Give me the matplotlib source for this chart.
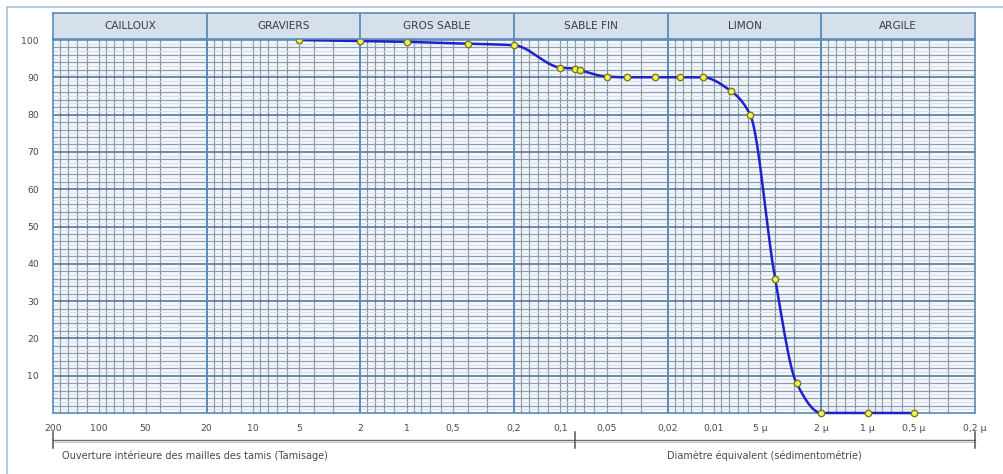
import numpy as np
import matplotlib
matplotlib.use('Agg')
import matplotlib.pyplot as plt
from matplotlib.lines import Line2D

# ---------------- data ----------------
diam_mm = [5, 2, 1, 0.4, 0.2, 0.1, 0.08, 0.074, 0.05, 0.037, 0.024, 0.0167,
           0.0118, 0.0078, 0.0058, 0.0040, 0.0029, 0.002, 0.001, 0.0005]
passing = [100.0, 99.7, 99.5, 99.0, 98.6, 92.6, 92.3, 91.9, 90.2, 90.0, 90.0,
           90.0, 90.0, 86.4, 79.9, 36.0, 8.0, 0.0, 0.0, 0.0]

classes = ['CAILLOUX', 'GRAVIERS', 'GROS SABLE', 'SABLE FIN', 'LIMON', 'ARGILE']
class_bounds = [200, 20, 2, 0.2, 0.02, 0.002, 0.0002]

xtick_vals = [200, 100, 50, 20, 10, 5, 2, 1, 0.5, 0.2, 0.1, 0.05, 0.02, 0.01,
              0.005, 0.002, 0.001, 0.0005, 0.0002]
xtick_labels = ['200', '100', '50', '20', '10', '5', '2', '1', '0,5', '0,2', '0,1',
                '0,05', '0,02', '0,01', '5 µ', '2 µ', '1 µ', '0,5 µ', '0,2 µ']
ytick_vals = [10, 20, 30, 40, 50, 60, 70, 80, 90, 100]

method_bounds = [200, 0.08, 0.0002]
method_labels = ['Ouverture intérieure des mailles des tamis (Tamisage)',
                 'Diamètre équivalent (sédimentométrie)']
method_label_x = [24, 0.0047]

# ---------------- helpers ----------------
def pchip(xk, yk, xs):
    xk = np.asarray(xk, float); yk = np.asarray(yk, float)
    h = np.diff(xk); d = np.diff(yk) / h
    n = len(xk); m = np.zeros(n)
    for i in range(1, n - 1):
        if d[i - 1] * d[i] > 0:
            w1 = 2 * h[i] + h[i - 1]; w2 = h[i] + 2 * h[i - 1]
            m[i] = (w1 + w2) / (w1 / d[i - 1] + w2 / d[i])
    m[0] = d[0] if d[0] * d[min(1, n - 2)] > 0 else 0
    m[-1] = d[-1] if d[-1] * d[max(-2, -(n - 1))] > 0 else 0
    out = np.empty_like(xs)
    idx = np.clip(np.searchsorted(xk, xs) - 1, 0, n - 2)
    for j, (x, i) in enumerate(zip(xs, idx)):
        t = (x - xk[i]) / h[i]
        h00 = 2 * t**3 - 3 * t**2 + 1; h10 = t**3 - 2 * t**2 + t
        h01 = -2 * t**3 + 3 * t**2; h11 = t**3 - t**2
        out[j] = h00 * yk[i] + h10 * h[i] * m[i] + h01 * yk[i + 1] + h11 * h[i] * m[i + 1]
    return out

W, H = 1004, 474
fig = plt.figure(figsize=(W / 100, H / 100), dpi=100)
fig.patch.set_facecolor('white')

def fx(px):
    return px / W
def fy(py):
    return 1 - py / H

L, R, T, B = 53, 975, 40, 413
ax = fig.add_axes([fx(L), fy(B), fx(R) - fx(L), fy(T) - fy(B)])
ax.set_facecolor('#f3f7fb')
ax.set_xscale('log')
ax.set_xlim(class_bounds[0], class_bounds[-1])
ax.set_ylim(0, 100)

# grid
subs = [1, 1.2, 1.4, 1.6, 1.8, 2, 3, 4, 5, 6, 7, 8, 9]
for k in range(-4, 3):
    for s in subs:
        v = s * 10.0**k
        if class_bounds[-1] < v < class_bounds[0] and v not in class_bounds:
            ax.axvline(v, color='#86929f', lw=0.85, zorder=1)
for yv in range(1, 100):
    if yv % 10 == 0:
        ax.axhline(yv, color='#5a7896', lw=1.2, zorder=1.5)
    elif yv % 2 == 0:
        ax.axhline(yv, color='#909cab', lw=0.85, zorder=1.2)
    else:
        ax.axhline(yv, color='#cfdeec', lw=0.6, zorder=1.1)
for b in class_bounds[1:-1]:
    ax.axvline(b, color='#5b8bb8', lw=1.4, zorder=2)

for sp in ax.spines.values():
    sp.set_color('#5b8bb8'); sp.set_linewidth(1.2)

ax.set_xticks(xtick_vals)
ax.set_xticklabels(xtick_labels)
ax.xaxis.set_minor_locator(matplotlib.ticker.NullLocator())
ax.set_yticks(ytick_vals)
ax.set_yticklabels([str(v) for v in ytick_vals])
ax.tick_params(axis='both', length=0, labelsize=6.7, labelcolor='#4a4a4a')
ax.tick_params(axis='x', pad=8)
ax.tick_params(axis='y', pad=10)

# curve
lx = np.log10(np.asarray(diam_mm, float))[::-1]
ly = np.asarray(passing, float)[::-1]
xs = np.linspace(lx[0], lx[-1], 600)
ys = pchip(lx, ly, xs)
ax.plot(10**xs, ys, color='#1f22c8', lw=1.8, zorder=5, clip_on=False,
        solid_capstyle='round')
ax.plot(diam_mm, passing, linestyle='none', marker='o', ms=4.6,
        mfc='#f4f05a', mec='#7c7c1c', mew=1.0, zorder=6, clip_on=False)

# header band
hax = fig.add_axes([fx(L), fy(T - 1), fx(R) - fx(L), fy(13) - fy(T - 1)])
hax.set_xscale('log')
hax.set_xlim(class_bounds[0], class_bounds[-1])
hax.set_ylim(0, 1)
hax.set_facecolor('#d6e0ec')
hax.set_xticks([]); hax.set_yticks([])
hax.xaxis.set_minor_locator(matplotlib.ticker.NullLocator())
for sp in hax.spines.values():
    sp.set_color('#5b8bb8'); sp.set_linewidth(1.2)
for i, name in enumerate(classes):
    if i > 0:
        hax.axvline(class_bounds[i], color='#5b8bb8', lw=1.3)
    xc = np.sqrt(class_bounds[i] * class_bounds[i + 1])
    hax.text(xc, 0.5, name, ha='center', va='center', fontsize=7.6,
             color='#3c3c3c')

# method bracket
tr = ax.get_xaxis_transform()
yb = (B - 440) / (B - T)
yt1 = (B - 432) / (B - T)
yt2 = (B - 448) / (B - T)
ax.plot([method_bounds[0], method_bounds[-1]], [yb, yb], transform=tr,
        color='#6d6d6d', lw=1.0, clip_on=False)
ax.plot([method_bounds[0], method_bounds[-1]], [yb - 0.005, yb - 0.005], transform=tr,
        color='#c8c8c8', lw=0.8, clip_on=False)
for mb in method_bounds:
    ax.plot([mb, mb], [yt1, yt2], transform=tr, color='#555555', lw=1.1, clip_on=False)
ytxt = (B - 455.5) / (B - T)
for lab, xv in zip(method_labels, method_label_x):
    ax.text(xv, ytxt, lab, transform=tr, ha='center', va='center',
            fontsize=7.0, color='#4a4a4a')

# outer panel border (left and top)
fig.add_artist(Line2D([fx(7), fx(7)], [fy(7), 0], color='#a9c2da', lw=1.2))
fig.add_artist(Line2D([fx(7), 1], [fy(7), fy(7)], color='#a9c2da', lw=1.2))

fig.savefig('out.png', dpi=100, facecolor='white')
